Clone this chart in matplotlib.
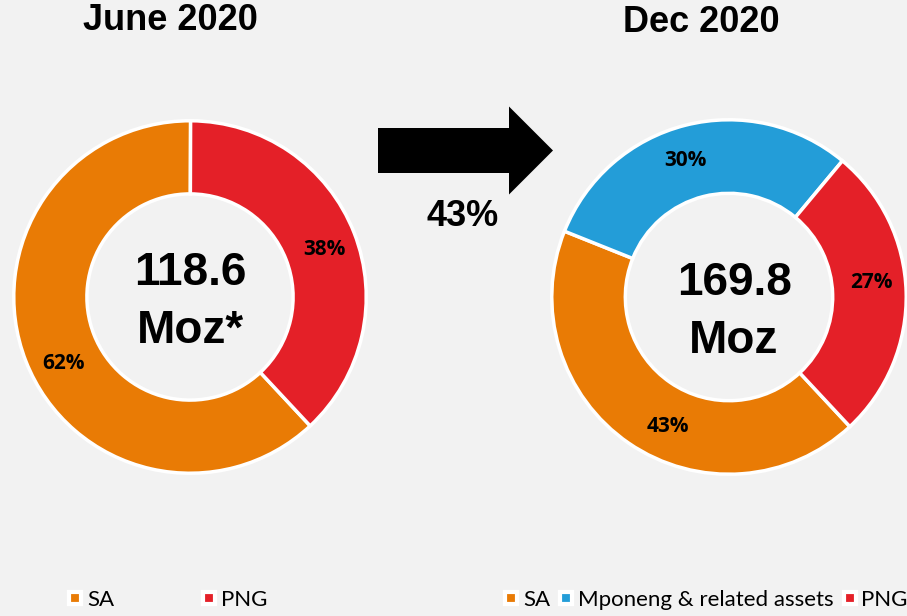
import matplotlib.pyplot as plt
import numpy as np
from matplotlib.lines import Line2D
from matplotlib.patches import FancyArrow

# data
jun_labels = ["SA", "PNG"]
jun_values = [62, 38]
jun_total = "118.6"
dec_labels = ["SA", "Mponeng & related assets", "PNG"]
dec_values = [43, 30, 27]
dec_total = "169.8"
growth = "43%"

col = {"SA": "#E97B05", "PNG": "#E42028", "Mponeng & related assets": "#239DD8"}
bg = "#F2F2F2"

W, H = 907, 616
fig = plt.figure(figsize=(W / 100, H / 100), dpi=100, facecolor=bg)


def px_axes(cx, cy, r):
    return fig.add_axes([(cx - r) / W, (H - cy - r) / H, 2 * r / W, 2 * r / H])


def donut(ax, labels, values, shift):
    ax.set_facecolor(bg)
    wedges, _ = ax.pie(values, colors=[col[l] for l in labels], startangle=-47,
                       counterclock=False, radius=1,
                       wedgeprops=dict(width=0.415, edgecolor="white", linewidth=2.5))
    ax.set_xlim(-1.01, 1.01)
    ax.set_ylim(-1.01, 1.01)
    ax.set_aspect("equal")
    ax.axis("off")
    tot = sum(values)
    # label angle nudged a little, like the office chart does
    for w, v, s in zip(wedges, values, shift):
        ang = np.deg2rad((w.theta1 + w.theta2) / 2 + s)
        ax.text(0.81 * np.cos(ang), 0.81 * np.sin(ang), "%d%%" % round(100 * v / tot),
                ha="center", va="center", fontsize=15, fontweight="bold",
                family="Open Sans", color="black")
    return wedges


ax1 = px_axes(190, 297, 178)
donut(ax1, jun_labels, jun_values, [6.5, -2])
ax2 = px_axes(729, 297, 179)
donut(ax2, dec_labels, dec_values, [9, 3.5, 4])

# overlay in pixel coords for text and arrow
ov = fig.add_axes([0, 0, 1, 1])
ov.set_xlim(0, W)
ov.set_ylim(H, 0)
ov.axis("off")
ov.patch.set_alpha(0)

big = dict(family="Liberation Sans", fontweight="bold", color="black")
ov.text(170, 21, "June 2020", ha="center", va="center", fontsize=26, **big)
ov.text(701, 23, "Dec 2020", ha="center", va="center", fontsize=26, **big)
ov.text(190, 285, jun_total, ha="center", va="baseline", fontsize=33, **big)
ov.text(190, 343, "Moz*", ha="center", va="baseline", fontsize=33, **big)
ov.text(735, 295, dec_total, ha="center", va="baseline", fontsize=33, **big)
ov.text(734, 353, "Moz", ha="center", va="baseline", fontsize=33, **big)
ov.text(463, 217, growth, ha="center", va="center", fontsize=26, **big)
ov.add_patch(FancyArrow(378, 150.5, 175, 0, width=45, head_width=88, head_length=44,
                        length_includes_head=True, color="black", lw=0))


def handles(labels):
    return [Line2D([], [], ls="none", marker="s", markersize=8.5, markerfacecolor=col[l],
                   markeredgecolor="white", markeredgewidth=3) for l in labels]


leg_kw = dict(frameon=False, loc="center left", borderpad=0, borderaxespad=0,
              handlelength=0.75, handletextpad=0.15,
              prop={"family": "Lato", "size": 16})
fig.legend(handles(jun_labels), jun_labels, ncol=2, columnspacing=3.9,
           bbox_to_anchor=(67 / W, 1 - 600 / H), **leg_kw)
fig.legend(handles(dec_labels), dec_labels, ncol=3, columnspacing=0.35,
           bbox_to_anchor=(503 / W, 1 - 600 / H), **leg_kw)

fig.savefig("out.png", dpi=100, facecolor=bg)
